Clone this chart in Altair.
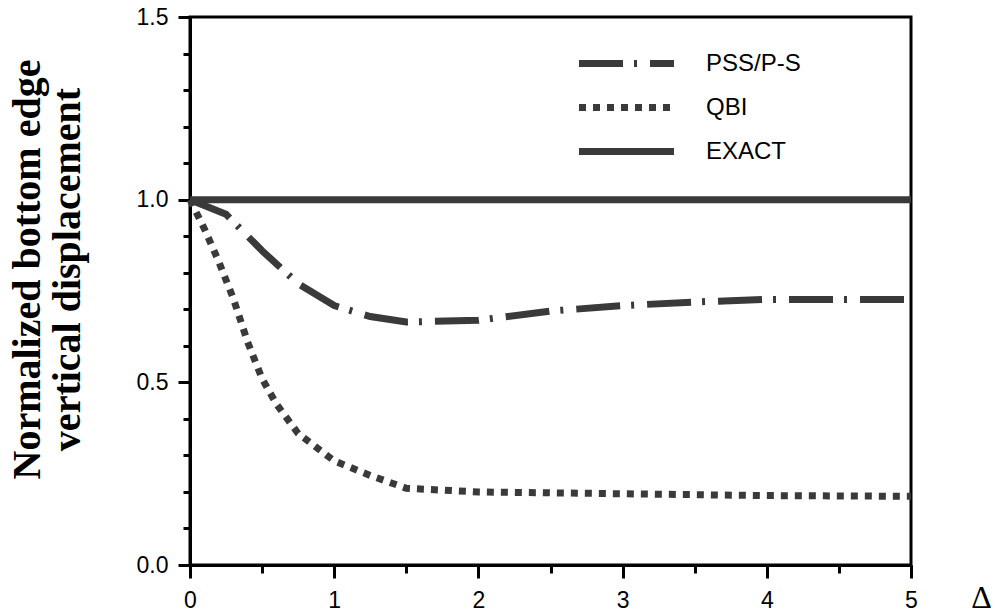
import altair as alt
import pandas as pd

# ---- data ----
methods = ["PSS/P-S", "QBI", "EXACT"]

pss_x = [0.0, 0.25, 0.5, 0.75, 1.0, 1.25, 1.5, 2.0, 2.5, 3.0, 3.5, 4.0, 4.5, 5.0]
pss_y = [1.0, 0.96, 0.86, 0.77, 0.71, 0.68, 0.665, 0.67, 0.695, 0.71, 0.72, 0.727, 0.727, 0.727]

qbi_x = [0.0, 0.1, 0.2, 0.3, 0.4, 0.5, 0.6, 0.75, 1.0, 1.25, 1.5, 2.0, 3.0, 4.0, 5.0]
qbi_y = [1.0, 0.92, 0.83, 0.73, 0.61, 0.51, 0.44, 0.36, 0.285, 0.245, 0.21, 0.2, 0.195, 0.19, 0.188]

exact_x = [0.0, 5.0]
exact_y = [1.0, 1.0]

x_major_ticks = [0, 1, 2, 3, 4, 5]
x_minor_ticks = [0, 0.5, 1, 1.5, 2, 2.5, 3, 3.5, 4, 4.5, 5]
y_major_ticks = [0.0, 0.5, 1.0, 1.5]
y_minor_ticks = [0.0, 0.1, 0.2, 0.3, 0.4, 0.5, 0.6, 0.7, 0.8, 0.9, 1.0,
                 1.1, 1.2, 1.3, 1.4, 1.5]

y_title = ["Normalized bottom edge", "vertical displacement"]
x_title = "Δ"

rows = []
for name, xs, ys in [(methods[0], pss_x, pss_y), (methods[1], qbi_x, qbi_y),
                     (methods[2], exact_x, exact_y)]:
    for xv, yv in zip(xs, ys):
        rows.append({"delta": xv, "disp": yv, "method": name})
df = pd.DataFrame(rows)

INK = "#3a3a3a"
x_scale = alt.Scale(domain=[0, 5], nice=False, zero=False)
y_scale = alt.Scale(domain=[0, 1.5], nice=False, zero=False)

main = alt.Chart(df).mark_line(strokeWidth=7, color=INK).encode(
    x=alt.X(
        "delta:Q",
        scale=x_scale,
        axis=alt.Axis(
            orient="bottom",
            values=x_major_ticks,
            format="d",
            title=x_title,
            tickSize=13,
            labelPadding=11,
            labelFlush=False,
            titleFont="Liberation Serif",
            titleFontSize=32,
            titleFontWeight="normal",
            titleX=791,
            titleY=32,
            titleAlign="center",
            titleBaseline="middle",
        ),
    ),
    y=alt.Y(
        "disp:Q",
        scale=y_scale,
        axis=alt.Axis(
            orient="left",
            values=y_major_ticks,
            format=".1f",
            title=y_title,
            tickSize=12,
            labelPadding=10,
            labelFlush=False,
            titleFont="Liberation Serif",
            titleFontSize=40,
            titleFontWeight="bold",
            titleAngle=270,
            titleX=-183,
            titleY=252,
            titleAlign="center",
            titleBaseline="top",
            titleLineHeight=40,
        ),
    ),
    strokeDash=alt.StrokeDash(
        "method:N",
        sort=methods,
        scale=alt.Scale(domain=methods, range=[[44, 11, 3, 13], [7, 7], [1, 0]]),
        legend=alt.Legend(
            title=None,
            orient="none",
            legendX=421,
            legendY=31,
            symbolType="M-4,0H4",
            symbolSize=564,
            symbolStrokeWidth=7,
            symbolStrokeColor=INK,
            symbolFillColor="transparent",
            labelFont="Liberation Sans",
            labelFontSize=24,
            labelColor="black",
            labelOffset=64,
            rowPadding=14,
            padding=0,
        ),
    ),
)

minor = alt.Chart(df).mark_line(opacity=0).encode(
    x=alt.X(
        "delta:Q",
        scale=x_scale,
        axis=alt.Axis(orient="bottom", values=x_minor_ticks, tickSize=8,
                      labels=False, domain=False, title=None),
    ),
    y=alt.Y(
        "disp:Q",
        scale=y_scale,
        axis=alt.Axis(orient="left", values=y_minor_ticks, tickSize=7,
                      labels=False, domain=False, title=None),
    ),
)

chart = alt.layer(main, minor).resolve_axis(
    x="independent", y="independent"
).properties(
    width=721,
    height=548,
    autosize=alt.AutoSizeParams(type="none"),
    padding={"left": 190, "top": 17, "right": 86, "bottom": 50},
    background="white",
).configure_view(
    stroke="black", strokeWidth=3
).configure_axis(
    grid=False,
    domainColor="black",
    domainWidth=3,
    tickColor="black",
    tickWidth=3,
    labelFont="Liberation Sans",
    labelFontSize=23,
    labelColor="black",
    titleColor="black",
)

chart.save("out.html", embed_options={"renderer": "svg", "actions": False})
